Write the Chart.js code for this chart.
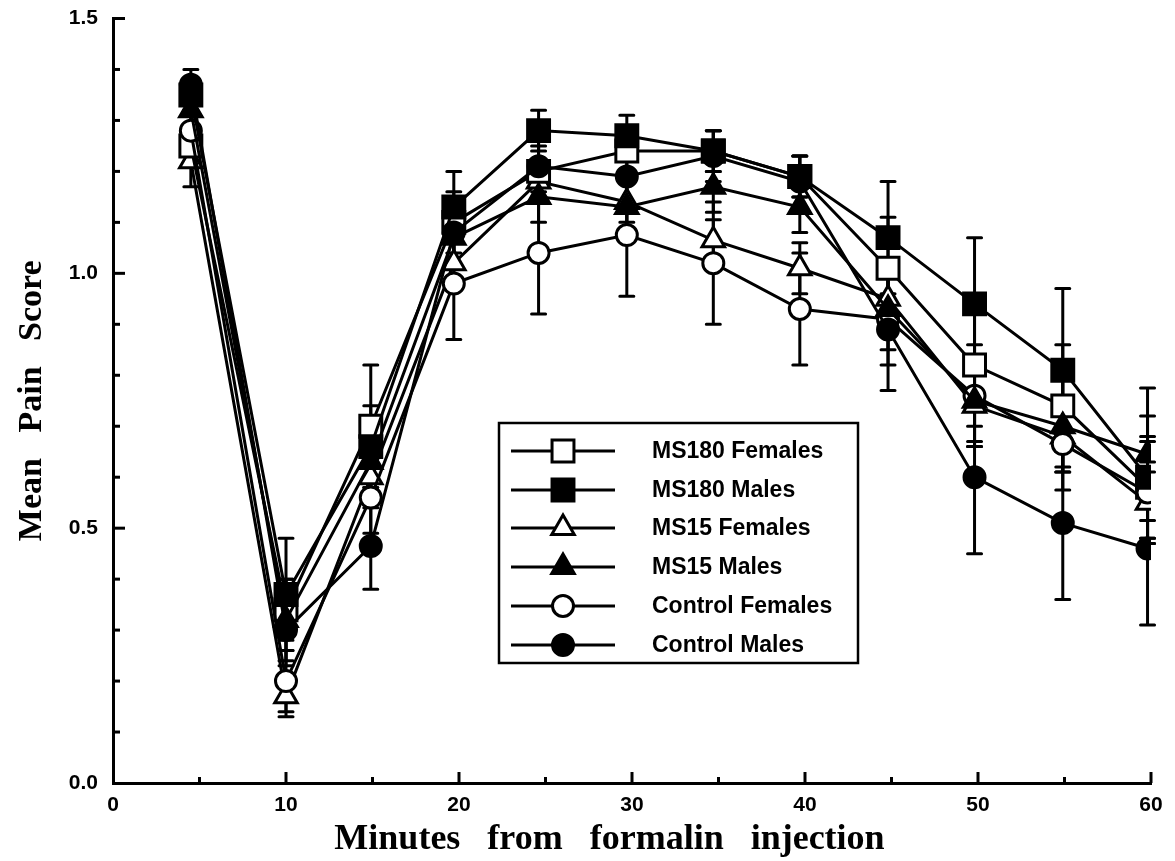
<!DOCTYPE html>
<html>
<head>
<meta charset="utf-8">
<script src="https://cdn.jsdelivr.net/npm/chart.js"></script>
<style>
  body { margin: 0; background: #fff; }
  canvas { display: block; }
</style>
</head>
<body>
<canvas id="painChart" width="1175" height="861"></canvas>
<script>
// time points as they sit in the figure (minutes)
var minutes = [4.5, 10, 14.9, 19.7, 24.6, 29.7, 34.7, 39.7, 44.8, 49.8, 54.9, 59.8];

var groupNames = ['MS180 Females', 'MS180 Males', 'MS15 Females', 'MS15 Males', 'Control Females', 'Control Males'];

// mean pain scores
var ms180Females   = [1.25, 0.34, 0.70, 1.10, 1.20, 1.24, 1.24, 1.19, 1.01, 0.82, 0.74, 0.58];
var ms180Males     = [1.35, 0.37, 0.66, 1.13, 1.28, 1.27, 1.24, 1.19, 1.07, 0.94, 0.81, 0.60];
var ms15Females    = [1.22, 0.17, 0.60, 1.02, 1.18, 1.14, 1.065, 1.01, 0.95, 0.74, 0.68, 0.55];
var ms15Males      = [1.32, 0.32, 0.63, 1.07, 1.15, 1.13, 1.17, 1.13, 0.93, 0.75, 0.70, 0.645];
var controlFemales = [1.28, 0.20, 0.56, 0.98, 1.04, 1.075, 1.02, 0.93, 0.91, 0.76, 0.665, 0.57];
var controlMales   = [1.37, 0.30, 0.465, 1.08, 1.21, 1.19, 1.23, 1.18, 0.89, 0.60, 0.51, 0.46];

// SEM
var ms180FemalesErr   = [0.04, 0.06, 0.12, 0.06, 0.05, 0.04, 0.04, 0.04, 0.10, 0.12, 0.12, 0.10];
var ms180MalesErr     = [0.03, 0.11, 0.08, 0.07, 0.04, 0.04, 0.04, 0.04, 0.11, 0.13, 0.16, 0.12];
var ms15FemalesErr    = [0.05, 0.04, 0.06, 0.05, 0.04, 0.04, 0.04, 0.05, 0.06, 0.07, 0.07, 0.08];
var ms15MalesErr      = [0.04, 0.08, 0.06, 0.06, 0.05, 0.05, 0.05, 0.05, 0.08, 0.09, 0.09, 0.13];
var controlFemalesErr = [0.04, 0.06, 0.07, 0.11, 0.12, 0.12, 0.12, 0.11, 0.09, 0.10, 0.09, 0.10];
var controlMalesErr   = [0.03, 0.07, 0.085, 0.07, 0.06, 0.06, 0.05, 0.05, 0.12, 0.15, 0.15, 0.15];

var xTicks = [0, 10, 20, 30, 40, 50, 60];
var yTicks = [0.0, 0.5, 1.0, 1.5];

var means = [ms180Females, ms180Males, ms15Females, ms15Males, controlFemales, controlMales];
var errs = [ms180FemalesErr, ms180MalesErr, ms15FemalesErr, ms15MalesErr, controlFemalesErr, controlMalesErr];
var shapes = ['rect', 'rect', 'triangle', 'triangle', 'circle', 'circle'];
var filled = [false, true, false, true, false, true];
var drawOrder = [4, 1, 5, 2, 3, 0]; // filled markers end up on top
var sizes = { rect: 15.5, triangle: 13, circle: 10.5 };

function makeDataset(i) {
  return {
    label: groupNames[i],
    data: minutes.map(function(m, j) { return { x: m, y: means[i][j] }; }),
    order: drawOrder[i],
    borderColor: '#000',
    borderWidth: 3,
    pointStyle: shapes[i],
    pointRadius: sizes[shapes[i]],
    pointBorderWidth: 3,
    pointBorderColor: '#000',
    pointBackgroundColor: filled[i] ? '#000' : '#fff',
    tension: 0
  };
}

var errorBars = {
  id: 'errorBars',
  beforeDatasetsDraw: function(chart) {
    var ctx = chart.ctx, xs = chart.scales.x, ys = chart.scales.y;
    ctx.save();
    ctx.strokeStyle = '#000';
    ctx.lineWidth = 3;
    ctx.lineCap = 'round';
    chart.data.datasets.forEach(function(ds, k) {
      ds.data.forEach(function(p, j) {
        var px = xs.getPixelForValue(p.x);
        var top = ys.getPixelForValue(p.y + errs[k][j]);
        var bot = ys.getPixelForValue(p.y - errs[k][j]);
        ctx.beginPath();
        ctx.moveTo(px, top); ctx.lineTo(px, bot);
        ctx.moveTo(px - 7, top); ctx.lineTo(px + 7, top);
        ctx.moveTo(px - 7, bot); ctx.lineTo(px + 7, bot);
        ctx.stroke();
      });
    });
    ctx.restore();
  }
};

// inward tick marks, like the printed figure
var innerTicks = {
  id: 'innerTicks',
  afterDraw: function(chart) {
    var ctx = chart.ctx, xs = chart.scales.x, ys = chart.scales.y;
    var area = chart.chartArea;
    ctx.save();
    ctx.strokeStyle = '#000';
    ctx.lineWidth = 3;
    for (var v = 1; v <= 15; v++) {
      var py = ys.getPixelForValue(v / 10);
      var len = (v % 5 === 0) ? 12 : 7;
      ctx.beginPath();
      ctx.moveTo(area.left, py);
      ctx.lineTo(area.left + len, py);
      ctx.stroke();
    }
    for (var m = 5; m <= 60; m += 5) {
      var px = xs.getPixelForValue(m);
      var l2 = (m % 10 === 0) ? 11 : 6;
      ctx.beginPath();
      ctx.moveTo(px, area.bottom);
      ctx.lineTo(px, area.bottom - l2);
      ctx.stroke();
    }
    ctx.restore();
  }
};

function drawMarker(ctx, style, r, x, y) {
  if (Chart.helpers && Chart.helpers.drawPoint) {
    Chart.helpers.drawPoint(ctx, { pointStyle: style, radius: r, rotation: 0, borderWidth: 3 }, x, y);
  }
}

var boxLegend = {
  id: 'boxLegend',
  afterDraw: function(chart) {
    var ctx = chart.ctx;
    ctx.save();
    ctx.strokeStyle = '#000';
    ctx.lineWidth = 2.5;
    ctx.fillStyle = '#fff';
    ctx.fillRect(499, 423, 359, 240);
    ctx.strokeRect(499, 423, 359, 240);
    var rows = [451, 490, 528, 567, 606, 645];
    chart.data.datasets.forEach(function(ds, i) {
      var y = rows[i];
      ctx.lineWidth = 3;
      ctx.beginPath();
      ctx.moveTo(511, y);
      ctx.lineTo(615, y);
      ctx.stroke();
      ctx.fillStyle = filled[i] ? '#000' : '#fff';
      ctx.strokeStyle = '#000';
      drawMarker(ctx, shapes[i], sizes[shapes[i]], 563, y);
      ctx.fillStyle = '#000';
      ctx.font = 'bold 23px "Liberation Sans", Arial, sans-serif';
      ctx.textBaseline = 'middle';
      ctx.textAlign = 'left';
      ctx.fillText(ds.label, 652, y + 1);
    });
    ctx.restore();
  }
};

new Chart(document.getElementById('painChart'), {
  type: 'line',
  data: { datasets: [0, 1, 2, 3, 4, 5].map(makeDataset) },
  options: {
    responsive: false,
    animation: false,
    layout: { padding: { top: 18, right: 24, left: 0, bottom: 0 } },
    plugins: { legend: { display: false }, tooltip: { enabled: false } },
    scales: {
      x: {
        type: 'linear',
        min: 0,
        max: 60,
        afterFit: function(scale) {
          scale.height = 78;
          scale.paddingLeft = 0;
          scale.paddingRight = 0;
        },
        afterBuildTicks: function(scale) {
          scale.ticks = xTicks.map(function(v) { return { value: v }; });
        },
        ticks: {
          color: '#000',
          padding: 10,
          maxRotation: 0,
          font: { family: '"Liberation Sans", Arial, sans-serif', size: 21, weight: 'bold' },
          callback: function(v) { return String(v); }
        },
        grid: { display: true, drawOnChartArea: false, drawTicks: false },
        border: { display: true, color: '#000', width: 3 },
        title: {
          display: true,
          text: 'Minutes   from   formalin   injection     ',
          color: '#000',
          padding: 0,
          font: { family: '"Liberation Serif", "Times New Roman", serif', size: 36, weight: 'bold' }
        }
      },
      y: {
        min: 0,
        max: 1.5,
        afterFit: function(scale) {
          scale.width = 113;
          scale.paddingTop = 0;
          scale.paddingBottom = 0;
        },
        afterBuildTicks: function(scale) {
          scale.ticks = yTicks.map(function(v) { return { value: v }; });
        },
        ticks: {
          color: '#000',
          padding: 15,
          font: { family: '"Liberation Sans", Arial, sans-serif', size: 21, weight: 'bold' },
          callback: function(v) { return Number(v).toFixed(1); }
        },
        grid: { display: true, drawOnChartArea: false, drawTicks: false },
        border: { display: true, color: '#000', width: 3 },
        title: {
          display: true,
          text: 'Mean   Pain   Score',
          color: '#000',
          padding: { top: 12, bottom: 0 },
          font: { family: '"Liberation Serif", "Times New Roman", serif', size: 34, weight: 'bold' }
        }
      }
    }
  },
  plugins: [errorBars, innerTicks, boxLegend]
});
</script>
</body>
</html>
